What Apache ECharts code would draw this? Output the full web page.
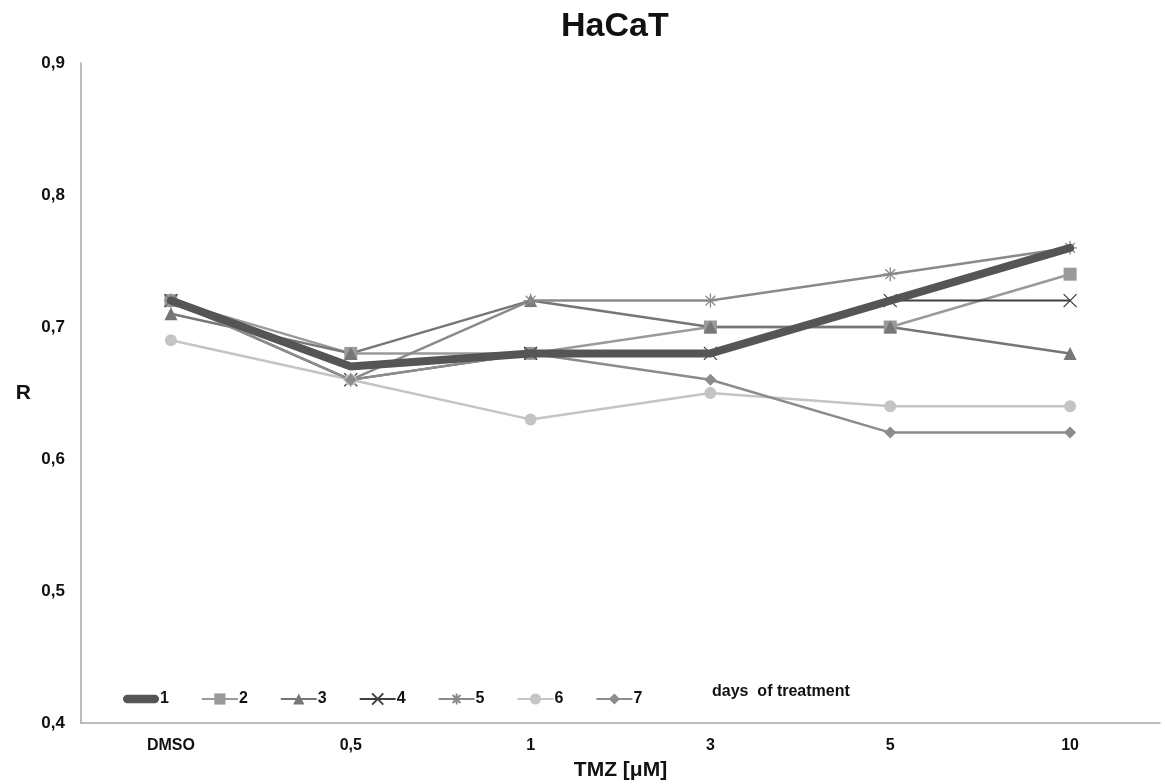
<!DOCTYPE html>
<html><head><meta charset="utf-8">
<script src="https://cdn.jsdelivr.net/npm/echarts@6/dist/echarts.min.js"></script>
<style>html,body{margin:0;padding:0;background:#fff}#c{width:1165px;height:784px}</style>
</head><body><div id="c"></div>
<script>
const categories = ['DMSO', '0,5', '1', '3', '5', '10'];
const seriesNames = ['1', '2', '3', '4', '5', '6', '7'];
const s1 = [0.72, 0.67, 0.68, 0.68, 0.72, 0.76];
const s2 = [0.72, 0.68, 0.68, 0.70, 0.70, 0.74];
const s3 = [0.71, 0.68, 0.72, 0.70, 0.70, 0.68];
const s4 = [0.72, 0.66, 0.68, 0.68, 0.72, 0.72];
const s5 = [0.72, 0.66, 0.72, 0.72, 0.74, 0.76];
const s6 = [0.69, 0.66, 0.63, 0.65, 0.64, 0.64];
const s7 = [0.72, 0.66, 0.68, 0.66, 0.62, 0.62];
const yTicks = [0.4, 0.5, 0.6, 0.7, 0.8, 0.9];

const FONT = 'Liberation Sans, Arial, sans-serif';
const xPath = 'path://M-10,-10L10,10M-10,10L10,-10';
const starPath = 'path://M0,-10L0,10M-10,0L10,0M-7,-7L7,7M-7,7L7,-7';
const thickIcon = 'path://M4,0L30,0A4,4 0 0 1 30,8L4,8A4,4 0 0 1 4,0Z';

function mk(name, data, color, width, symbol, size, stroke) {
  return {
    name, type: 'line', data,
    symbol, symbolSize: size, showSymbol: symbol !== 'none',
    lineStyle: { color, width },
    itemStyle: stroke ? { color: 'rgba(0,0,0,0)', borderColor: color, borderWidth: 1.3 } : { color },
    emphasis: { disabled: true },
    z: 2
  };
}
const series = [
  mk('2', s2, '#9a9a9a', 2.5, 'rect', 13, false),
  mk('3', s3, '#767676', 2.5, 'triangle', 13, false),
  mk('4', s4, '#404040', 2, xPath, 13, true),
  mk('5', s5, '#8a8a8a', 2.5, starPath, 14, true),
  mk('6', s6, '#c4c4c4', 2.5, 'circle', 12, false),
  mk('7', s7, '#8c8c8c', 2.5, 'diamond', 12, false),
  mk('1', s1, '#555555', 8, 'none', 0, false)
];
series[6].z = 3;
series[6].lineStyle.cap = 'round';

const legendData = seriesNames.map(n => n === '1'
  ? { name: n, icon: thickIcon, itemStyle: { color: '#555555' } }
  : { name: n });

const chart = echarts.init(document.getElementById('c'));
chart.setOption({
  animation: false,
  backgroundColor: '#fff',
  title: { text: 'HaCaT', left: 556, top: 5,
    textStyle: { fontFamily: FONT, fontWeight: 'bold', fontSize: 34, color: '#111' } },
  grid: { left: 81, right: 5, top: 63, bottom: 61, containLabel: false, outerBoundsMode: 'none' },
  legend: {
    left: 118, top: 686, itemWidth: 36, itemHeight: 14, itemGap: 32,
    data: legendData,
    textStyle: { fontFamily: FONT, fontWeight: 'bold', fontSize: 16, color: '#111', padding: [0, 0, 0, -4] }
  },
  graphic: [{ type: 'text', left: 712, top: 684,
    style: { text: 'days  of treatment', font: 'bold 16px ' + FONT, fill: '#111' } }],
  xAxis: {
    type: 'category', data: categories, boundaryGap: true,
    axisLine: { lineStyle: { color: '#a6a6a6', width: 1.5 } },
    axisTick: { show: false },
    axisLabel: { fontFamily: FONT, fontWeight: 'bold', fontSize: 16, color: '#111', margin: 15 },
    name: 'TMZ [μM]', nameLocation: 'middle', nameGap: 37,
    nameTextStyle: { fontFamily: FONT, fontWeight: 'bold', fontSize: 21, color: '#111' }
  },
  yAxis: {
    type: 'value', min: yTicks[0], max: yTicks[yTicks.length - 1], interval: 0.1,
    axisLine: { show: true, lineStyle: { color: '#a6a6a6', width: 1.5 } },
    axisTick: { show: false }, splitLine: { show: false },
    axisLabel: { fontFamily: FONT, fontWeight: 'bold', fontSize: 17, color: '#111', margin: 16,
      formatter: v => v.toFixed(1).replace('.', ',') },
    name: 'R', nameLocation: 'middle', nameRotate: 0, nameGap: 50,
    nameTextStyle: { fontFamily: FONT, fontWeight: 'bold', fontSize: 21, color: '#111' }
  },
  series
});
</script></body></html>
